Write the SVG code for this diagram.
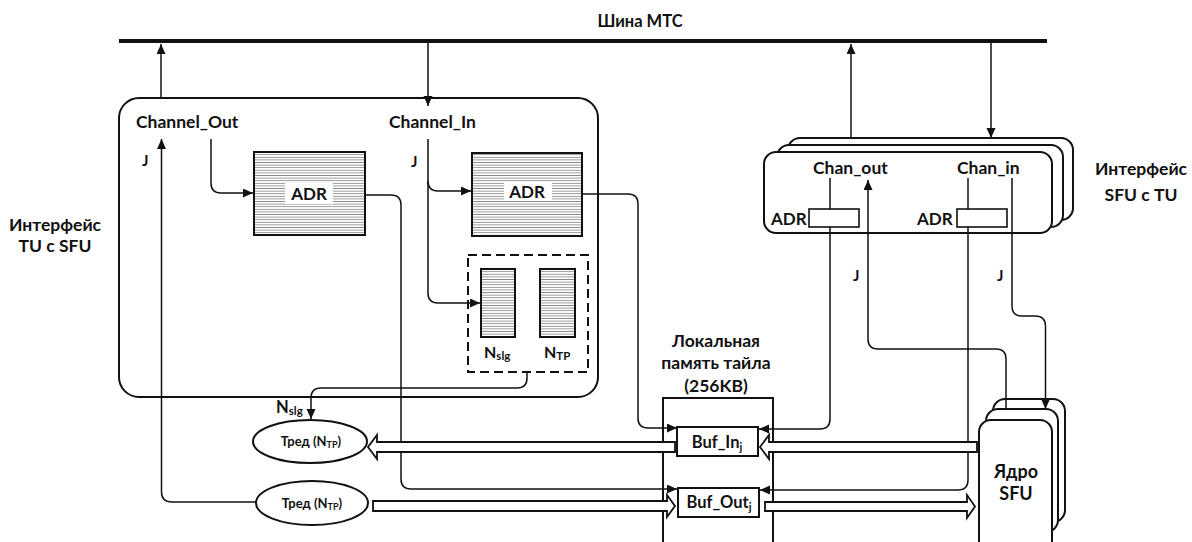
<svg xmlns="http://www.w3.org/2000/svg" width="1192" height="542" viewBox="0 0 1192 542">
<style>
text{font-family:Lato,"Open Sans","Liberation Sans",sans-serif;font-weight:bold;fill:#111;}
.t15{font-size:17.5px;}
.t14{font-size:17px;}
.tj{font-size:15px;}
.t16{font-size:17px;}
.tb{font-size:16.5px;}
.t12{font-size:13px;}
.c{text-anchor:middle;}
.ln{fill:none;stroke:#111;stroke-width:1.5;}
.ar{marker-end:url(#ah);}
.box{fill:#fff;stroke:#111;stroke-width:2;}
.hb{fill:url(#hatch);stroke:#111;stroke-width:2;}
.blk{fill:#fff;stroke:#111;stroke-width:1.8;stroke-linejoin:miter;}
</style>
<defs>
<marker id="ah" markerUnits="userSpaceOnUse" markerWidth="12" markerHeight="10" refX="10" refY="4.5" orient="auto">
<path d="M0,0 L10,4.5 L0,9 Z" fill="#111"/>
</marker>
<pattern id="hatch" patternUnits="userSpaceOnUse" width="6" height="2.6">
<rect width="6" height="2.6" fill="#fff"/>
<line x1="0" y1="1.3" x2="6" y2="1.3" stroke="#8a8a8a" stroke-width="0.9"/>
</pattern>
</defs>

<g id="bus">
<line x1="119" y1="41" x2="1047" y2="41" stroke="#111" stroke-width="4"/>
<text class="c" font-size="16.5" x="640" y="27">Шина МТС</text>
</g>

<g id="tu-interface">
<rect x="119" y="98" width="479" height="299" rx="20" class="box"/>
<text class="t15" x="136" y="128">Channel_Out</text>
<text class="t15" x="389" y="128">Channel_In</text>
<text class="tj" x="142" y="166">J</text>
<text class="tj" x="411" y="167">J</text>
</g>
<g id="tu-label">
<text class="t15 c" x="55" y="231">Интерфейс</text>
<text class="t15 c" x="55" y="252">TU с SFU</text>
</g>

<g id="sfu-interface">
<rect x="788" y="138" width="285" height="82" rx="12" class="box"/>
<rect x="777" y="145" width="286" height="82" rx="12" class="box"/>
<rect x="764" y="152" width="288" height="81" rx="12" class="box"/>
<text class="t15" x="813" y="174">Chan_out</text>
<text class="t15" x="957" y="174">Chan_in</text>
<text class="tj" x="853" y="281">J</text>
<text class="tj" x="997" y="281">J</text>
</g>
<g id="sfu-label">
<text class="t15 c" x="1141" y="175">Интерфейс</text>
<text class="t15 c" x="1141" y="201">SFU с TU</text>
</g>

<g id="local-memory">
<rect x="663" y="398" width="110" height="160" class="box"/>
<text class="t15 c" x="716" y="347">Локальная</text>
<text class="t15 c" x="716" y="369">память тайла</text>
<text class="t15 c" x="716" y="392">(256KB)</text>
</g>

<g id="sfu-core">
<rect x="993" y="399" width="72" height="123" rx="12" class="box"/>
<rect x="986" y="409" width="72" height="123" rx="12" class="box"/>
<rect x="979" y="420" width="73" height="140" rx="12" class="box"/>
<text class="c" font-size="18" x="1016" y="478">Ядро</text>
<text class="c" font-size="18" x="1016" y="500">SFU</text>
</g>

<g id="connectors">
<line class="ln ar" x1="161" y1="98" x2="161" y2="44"/>
<line class="ln ar" x1="428" y1="43" x2="428" y2="106"/>
<path class="ln ar" d="M256,502 H172 Q161.5,502 161.5,492 V139"/>
<path class="ln ar" d="M211,139 V183 Q211,193 221,193 H253"/>
<path class="ln ar" d="M428,139 V181 Q428,191 438,191 H471"/>
<path class="ln ar" d="M428,181 V293 Q428,303 438,303 H480"/>
<path class="ln ar" d="M365,195 H391 Q401,195 401,205 V479 Q401,489 411,489 H677"/>
<path class="ln ar" d="M582,194 H628 Q638,194 638,204 V418 Q638,428 648,428 H677"/>
<path class="ln ar" d="M527,372 V378 Q527,388 517,388 H321 Q311,388 311,398 V419"/>
<line class="ln ar" x1="851" y1="138" x2="851" y2="44"/>
<line class="ln ar" x1="991" y1="43" x2="991" y2="138"/>
<path class="ln ar" d="M830,178 V419 Q830,429 820,429 H759"/>
<path class="ln ar" d="M968,178 V480 Q968,490 958,490 H760"/>
<path class="ln ar" d="M1006,409 V359 Q1006,349 996,349 H878 Q868,349 868,339 V180"/>
<path class="ln ar" d="M1012,178 V306 Q1012,316 1022,316 H1035 Q1045.5,316 1045.5,326 V409"/>
<polygon class="blk" points="675,442 377,442 377,435 368,447 377,459 377,452 675,452"/>
<polygon class="blk" points="977,442 769,442 769,435 760,447 769,459 769,452 977,452"/>
<polygon class="blk" points="373,501 667,501 667,495 675,506 667,517 667,511 373,511"/>
<polygon class="blk" points="765,502 967,502 967,495 975,506.5 967,518 967,511 765,511"/>
</g>

<g id="adr-out">
<rect x="254" y="152" width="111" height="83" class="hb"/>
<rect x="285" y="183" width="48" height="21" fill="#fff"/>
<text class="t16 c" x="309" y="200">ADR</text>
</g>
<g id="adr-in">
<rect x="472" y="153" width="110" height="83" class="hb"/>
<rect x="504" y="182" width="48" height="19" fill="#fff"/>
<text class="t16 c" x="527" y="198">ADR</text>
</g>
<g id="counters">
<rect x="468" y="255" width="120" height="117" fill="none" stroke="#111" stroke-width="2" stroke-dasharray="9,5"/>
<rect x="481" y="269" width="34" height="68" class="hb"/>
<rect x="540" y="269" width="35" height="68" class="hb"/>
<text font-size="16" x="484" y="358">N<tspan font-size="11.5" dy="2">slg</tspan></text>
<text font-size="16" x="544" y="358">N<tspan font-size="11.5" dy="2">TP</tspan></text>
</g>
<g id="thread-1">
<ellipse cx="310" cy="441.5" rx="57" ry="21.5" class="box" stroke-width="1.6"/>
<text class="t12 c" x="311" y="446">Тред (N<tspan font-size="9" dy="1.5">TP</tspan><tspan dy="-1.5">)</tspan></text>
</g>
<text font-size="16.5" x="276" y="413">N<tspan font-size="11.5" dy="2">slg</tspan></text>
<g id="thread-2">
<ellipse cx="312" cy="503" rx="56" ry="22" class="box" stroke-width="1.6"/>
<text class="t12 c" x="312" y="508">Тред (N<tspan font-size="9" dy="1.5">TP</tspan><tspan dy="-1.5">)</tspan></text>
</g>
<g id="buf-in">
<rect x="677" y="427" width="81" height="29" class="box"/>
<text class="tb c" x="717" y="448">Buf_In<tspan font-size="11" dy="3">j</tspan></text>
</g>
<g id="buf-out">
<rect x="678" y="488" width="81" height="29" class="box"/>
<text class="tb c" x="719" y="508">Buf_Out<tspan font-size="11" dy="3">j</tspan></text>
</g>
<g id="adr-chan-out">
<rect x="809" y="209" width="50" height="18" fill="#fff" stroke="#111" stroke-width="1.6"/>
<text class="t14" x="771" y="225">ADR</text>
</g>
<g id="adr-chan-in">
<rect x="957" y="209" width="50" height="18" fill="#fff" stroke="#111" stroke-width="1.6"/>
<text class="t14" x="917" y="225">ADR</text>
</g>
</svg>
